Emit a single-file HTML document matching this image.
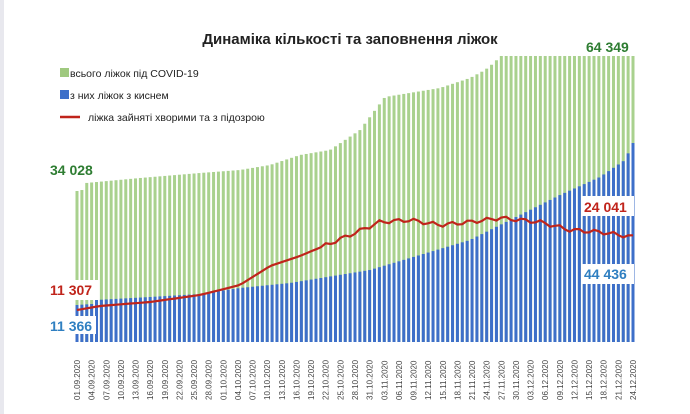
<!DOCTYPE html><html><head><meta charset="utf-8"><style>body{margin:0;background:#fff}svg{display:block;font-family:"Liberation Sans",sans-serif}</style></head><body>
<svg id="s" width="690" height="414" xmlns="http://www.w3.org/2000/svg">
<rect width="690" height="414" fill="#fff"/>
<rect x="0" y="0" width="4" height="414" fill="#e8e8ee"/>
<text x="350" y="44" text-anchor="middle" font-size="15" font-weight="bold" fill="#222">Динаміка кількості та заповнення ліжок</text>
<g id="bars"></g>
<polyline id="red" fill="none" stroke="#c0241b" stroke-width="2.2"/>
<rect x="60" y="68" width="9" height="9" fill="#9fc97f"/>
<text x="70" y="77" font-size="10.5" fill="#222">всього ліжок під COVID-19</text>
<rect x="60" y="90" width="9" height="9" fill="#3d6fc9"/>
<text x="70" y="99" font-size="10.5" fill="#222">з них ліжок з киснем</text>
<line x1="60" y1="117" x2="80" y2="117" stroke="#c0241b" stroke-width="2.5"/>
<text x="88" y="121" font-size="10.5" fill="#222">ліжка зайняті хворими та з підозрою</text>
<rect x="48" y="160" width="50" height="18" fill="#fff"/>
<text x="50" y="175" font-size="14" font-weight="bold" fill="#2e7d32">34 028</text>
<rect x="48" y="280" width="50" height="20" fill="#fff"/>
<text x="50" y="295" font-size="14" font-weight="bold" fill="#c0241b">11 307</text>
<rect x="48" y="316" width="48" height="18" fill="#fff"/>
<text x="50" y="331" font-size="14" font-weight="bold" fill="#2f7fc1">11 366</text>
<text x="586" y="52" font-size="14" font-weight="bold" fill="#2e7d32">64 349</text>
<rect x="582" y="196" width="52" height="20" fill="#fff"/>
<text x="584" y="212" font-size="14" font-weight="bold" fill="#c0241b">24 041</text>
<rect x="582" y="264" width="52" height="20" fill="#fff"/>
<text x="584" y="279" font-size="14" font-weight="bold" fill="#2f7fc1">44 436</text>
<g id="lab" font-size="8" fill="#444"></g>
</svg>
<script>
function interp(p,x){for(let i=0;i<p.length-1;i++){if(x<=p[i+1][0]){const t=(x-p[i][0])/(p[i+1][0]-p[i][0]);return p[i][1]+t*(p[i+1][1]-p[i][1]);}}return p[p.length-1][1];}
const G=[[77,191],[82,190],[86,183],[140,178],[200,173],[240,170],[270,165],[300,155],[330,150],[360,130],[385,97],[440,88],[470,78],[485,70],[495,62],[500,56],[640,56]];
const B=[[77,305],[92,304],[96,300],[150,297],[200,294],[240,288],[290,283],[370,270],[420,255],[470,240],[510,220],[560,195],[600,177],[625,160],[633,143]];
const R=[[77,310],[100,306],[150,302],[200,295],[240,285],[270,266],[300,256],[350,235],[380,222],[410,220],[440,225],[470,222],[500,218],[540,222],[570,230],[600,232],[633,237]];
let bars="",pts=[],lab="";
const d0=new Date(2020,8,1);
for(let i=0;i<115;i++){const x=77+i*(556/114);const g=interp(G,x),b=interp(B,x);
bars+=`<rect x="${x-1.5}" y="${g}" width="3" height="${342-g}" fill="#a9d18e"/><rect x="${x-1.5}" y="${b}" width="3" height="${342-b}" fill="#3d6fc9"/>`;
const r=interp(R,x)+(i>50?Math.sin(i*1.7)*2:0);pts.push(x.toFixed(1)+","+r.toFixed(1));
if(i%3==0){const d=new Date(d0.getTime()+i*864e5);const s=String(d.getDate()).padStart(2,"0")+"."+String(d.getMonth()+1).padStart(2,"0")+".2020";
lab+=`<text transform="translate(${x+3},400) rotate(-90)">${s}</text>`;}}
document.getElementById("bars").innerHTML=bars;document.getElementById("red").setAttribute("points",pts.join(" "));document.getElementById("lab").innerHTML=lab;
</script>
</body></html>
